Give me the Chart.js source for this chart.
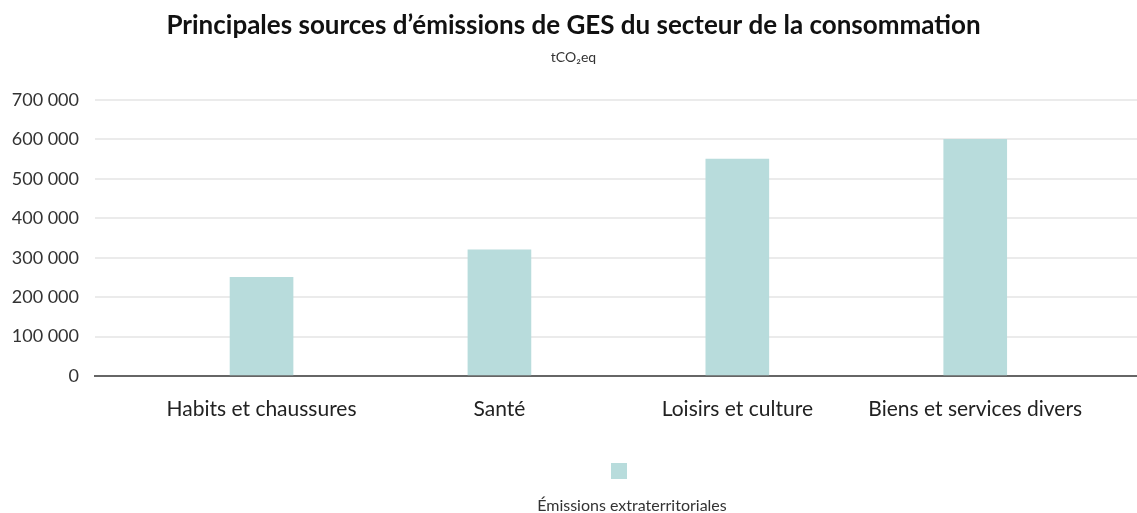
<!DOCTYPE html>
<html>
<head>
<meta charset="utf-8">
<script src="https://cdn.jsdelivr.net/npm/chart.js@4"></script>
<style>
  body { margin: 0; background: #fff; }
  #wrap { position: relative; width: 1137px; height: 513px; }
  #caption { position: absolute; left: 111px; width: 1042px; top: 495px; text-align: center;
    font-family: Lato, sans-serif; font-size: 16px; color: #333; }
</style>
</head>
<body>
<div id="wrap">
  <canvas id="chart" width="1137" height="513"></canvas>
  <div id="caption">Émissions extraterritoriales</div>
</div>
<script>
// data
const categories = ['Habits et chaussures', 'Santé', 'Loisirs et culture', 'Biens et services divers'];
const emissions = [250000, 320000, 550000, 600000];
const seriesLabel = 'Émissions extraterritoriales';
const yTicks = [0, 100000, 200000, 300000, 400000, 500000, 600000, 700000];

const fontName = 'Lato, sans-serif';
const barColor = '#b8dcdc';

const ctx = document.getElementById('chart');

function fmt(v) {
  return v.toLocaleString('fr-FR').replace(/\u202f|\u00a0/g, ' ');
}

new Chart(ctx, {
  type: 'bar',
  data: {
    datasets: [{
      label: seriesLabel,
      data: emissions.map((v, i) => ({ x: i, y: v })),
      backgroundColor: barColor,
      barThickness: 63
    }]
  },
  options: {
    responsive: false,
    animation: false,
    layout: { padding: { left: 10, right: 0, top: 4, bottom: 24 } },
    plugins: {
      title: {
        display: true,
        text: 'Principales sources d’émissions de GES du secteur de la consommation',
        font: { family: fontName, size: 26, weight: 'bold' },
        color: '#111',
        padding: { top: 6, bottom: 4 }
      },
      subtitle: {
        display: true,
        text: 'tCO₂eq',
        font: { family: fontName, size: 14 },
        color: '#333',
        padding: { top: 4, bottom: 34 }
      },
      legend: {
        position: 'bottom',
        fullSize: false,
        rtl: true,
        labels: {
          boxWidth: 16,
          boxHeight: 16,
          padding: 10,
          generateLabels: (chart) => [{
            text: '',
            fillStyle: barColor,
            strokeStyle: barColor,
            lineWidth: 0,
            datasetIndex: 0
          }]
        }
      },
      tooltip: { enabled: false }
    },
    scales: {
      x: {
        type: 'linear',
        offset: false,
        min: -0.7,
        max: 3.68,
        afterBuildTicks: (scale) => {
          scale.ticks = categories.map((c, i) => ({ value: i }));
        },
        afterFit: (scale) => { scale.height = 77; },
        grid: { display: false, drawTicks: false },
        border: { color: '#666', width: 2 },
        ticks: {
          autoSkip: false,
          maxRotation: 0,
          padding: 21,
          color: '#222',
          font: { family: fontName, size: 21 },
          callback: (v) => categories[v]
        }
      },
      y: {
        min: 0,
        max: 700000,
        afterBuildTicks: (scale) => {
          scale.ticks = yTicks.map(v => ({ value: v }));
        },
        afterFit: (scale) => { scale.width = 85; },
        grid: { color: '#ebebeb', lineWidth: 2, drawTicks: false },
        border: { display: false },
        ticks: {
          padding: 16,
          color: '#333',
          font: { family: fontName, size: 18 },
          callback: (v) => fmt(v)
        }
      }
    }
  }
});
</script>
</body>
</html>
